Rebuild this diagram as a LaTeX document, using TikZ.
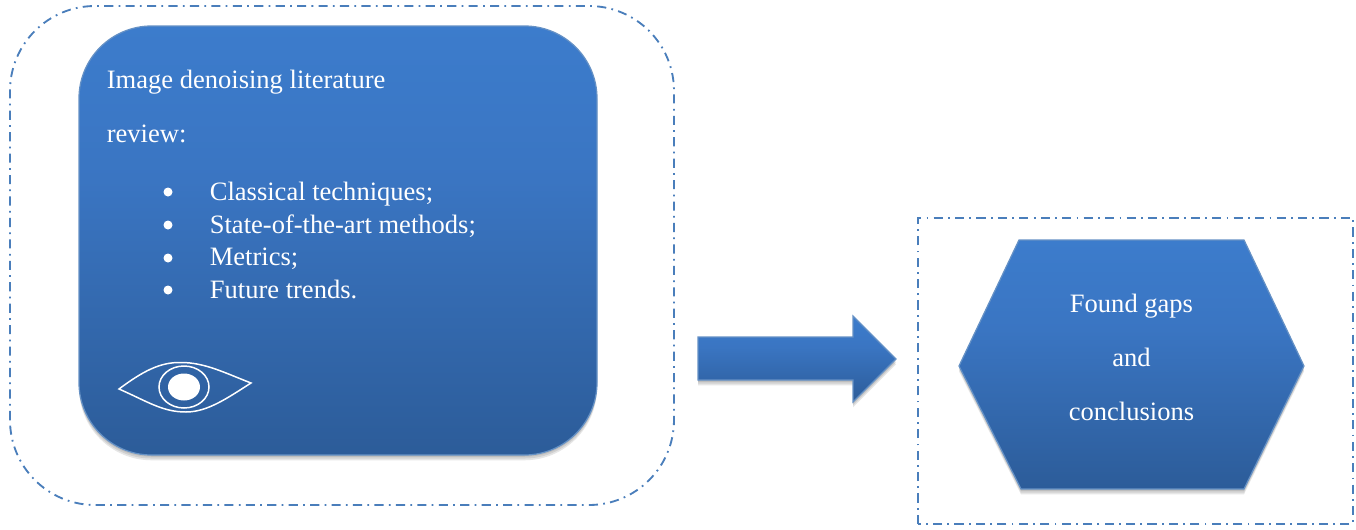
\documentclass[tikz,border=0pt]{standalone}
\usepackage{fontspec}
\setmainfont{Liberation Serif}
\usetikzlibrary{shadows}
\definecolor{dashblue}{HTML}{4A7EBB}
\definecolor{topblue}{HTML}{3C7CCC}
\definecolor{midblue}{HTML}{3A75C2}
\definecolor{botblue}{HTML}{2C5C99}
\pgfdeclareverticalshading{panelblue}{100bp}{color(0bp)=(botblue); color(25bp)=(botblue); color(57bp)=(midblue); color(75bp)=(topblue); color(100bp)=(topblue)}
\tikzset{
  softshadow/.style={drop shadow={shadow xshift=0pt,shadow yshift=#1,opacity=0.14,fill=black!70}},
  framebox/.style={draw=dashblue,line width=1.05pt,dash pattern=on 5.2pt off 3pt on 1pt off 3pt},
  blueshape/.style={draw=dashblue!85!white,line width=0.7pt,shading=panelblue,
    softshadow=-1pt,softshadow=-2pt,softshadow=-3pt},
  whitetext/.style={text=white,font=\fontsize{15.1}{18}\selectfont,inner sep=0pt},
  eyeline/.style={draw=white,line width=0.85pt}
}
\begin{document}
\begin{tikzpicture}
  \useasboundingbox (0,0) rectangle (27.12,10.58);
  % the two dashed frames
  \draw[framebox,rounded corners=1.7cm] (0.20,0.48) rectangle (13.48,10.46);
  \draw[framebox] (18.36,0.10) rectangle (27.06,6.22);
  % left panel
  \draw[blueshape,rounded corners=1.45cm] (1.58,1.48) rectangle (11.94,10.06);
  \node[whitetext,anchor=base west] (title1) at (2.13,8.82) {Image denoising literature};
  \node[whitetext,anchor=base west] (title2) at (2.13,7.74) {review:};
  % bullet list
  \foreach \y/\d/\t/\n in {6.58/6.74/Classical techniques;/a, 5.92/6.08/State-of-the-art methods;/b, 5.28/5.42/Metrics;/c, 4.62/4.78/Future trends./d}{
    \node[whitetext,anchor=base west] (item\n) at (4.19,\y) {\t};
    \fill[white] (3.36,\d) circle (0.09);
  }
  % eye
  \draw[eyeline] (2.38,2.80) .. controls (2.85,3.15) and (3.20,3.34) .. (3.62,3.33)
    .. controls (4.10,3.33) and (4.50,3.12) .. (5.02,2.92)
    .. controls (4.55,2.62) and (4.15,2.34) .. (3.72,2.34)
    .. controls (3.25,2.34) and (2.95,2.55) .. (2.38,2.80) -- cycle;
  \draw[eyeline] (3.68,2.84) ellipse (0.50 and 0.42);
  \fill[white] (3.68,2.84) ellipse (0.32 and 0.27);
  % block arrow
  \draw[blueshape] (13.96,2.98) -- (17.06,2.98) -- (17.06,2.54) -- (17.92,3.40)
    -- (17.06,4.26) -- (17.06,3.84) -- (13.96,3.84) -- cycle;
  % hexagon
  \draw[blueshape] (19.18,3.26) -- (20.38,5.78) -- (24.88,5.78) -- (26.08,3.26)
    -- (24.88,0.80) -- (20.42,0.80) -- cycle;
  \node[whitetext,anchor=base] (gaps) at (22.63,4.34) {Found gaps};
  \node[whitetext,anchor=base] (and) at (22.63,3.26) {and};
  \node[whitetext,anchor=base] (concl) at (22.63,2.18) {conclusions};
\end{tikzpicture}
\end{document}
